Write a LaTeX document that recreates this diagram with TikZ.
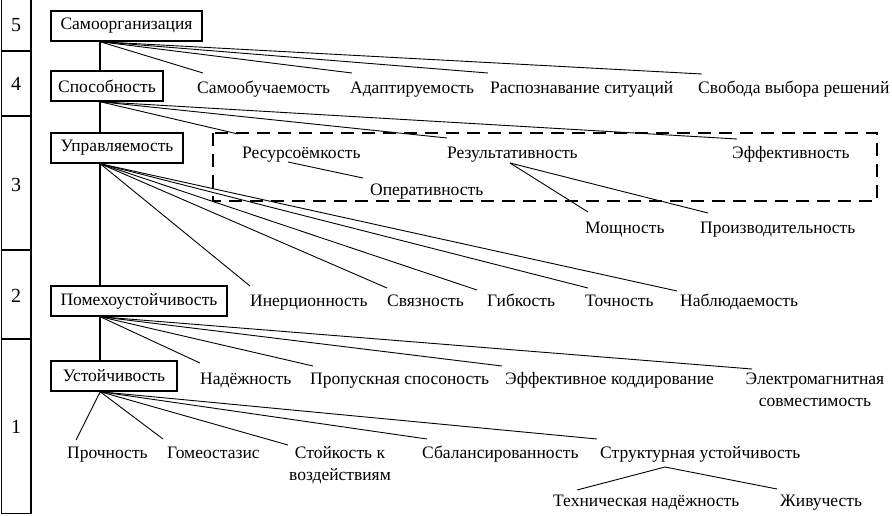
\documentclass[tikz,border=0pt]{standalone}
\usepackage{fontspec}
\setmainfont{Liberation Serif}
\begin{document}
\begin{tikzpicture}[x=1pt,y=-1pt,
  every node/.style={font=\fontsize{17.5}{22}\selectfont},
  box/.style={draw, line width=1.5pt, inner sep=0pt, minimum height=30pt},
  lbl/.style={anchor=base west, inner sep=0pt},
  lbl2/.style={anchor=base, inner sep=0pt, align=center},
  num/.style={inner sep=0pt, font=\fontsize{20}{22}\selectfont},
  fan/.style={line width=0.9pt},
  thick line/.style={line width=1.6pt},
  trunk/.style={line width=2pt},
  dashbox/.style={line width=1.3pt, dash pattern=on 13pt off 8pt}]
\useasboundingbox (0,0) rectangle (892,515);

% level column
\draw[thick line] (1.5,0) -- (1.5,513.5) -- (31,513.5) -- (31,0);
\draw[thick line] (1,51) -- (31,51);
\draw[thick line] (1,116) -- (31,116);
\draw[thick line] (1,250) -- (31,250);
\draw[thick line] (1,339) -- (31,339);
\node[num] (n5) at (16,25) {5};
\node[num] (n4) at (16,84) {4};
\node[num] (n3) at (16,185) {3};
\node[num] (n2) at (16,296) {2};
\node[num] (n1) at (16,427) {1};

% main boxes
\node[box, minimum width=151pt] (samo) at (126.5,26) {Самоорганизация};
\node[box, minimum width=112pt] (spos) at (107,86) {Способность};
\node[box, minimum width=132pt] (upr) at (117,148) {Управляемость};
\node[box, minimum width=176pt] (pom) at (139,301) {Помехоустойчивость};
\node[box, minimum width=126pt] (ust) at (114,376) {Устойчивость};

\coordinate (o5) at ([xshift=50pt]samo.south west);
\coordinate (o4) at ([xshift=50pt]spos.south west);
\coordinate (o3) at ([xshift=50pt]upr.south west);
\coordinate (o2) at ([xshift=50pt]pom.south west);
\coordinate (o1) at ([xshift=50pt]ust.south west);
\coordinate (t4) at ([xshift=50pt]spos.north west);
\coordinate (t3) at ([xshift=50pt]upr.north west);
\coordinate (t2) at ([xshift=50pt]pom.north west);
\coordinate (t1) at ([xshift=50pt]ust.north west);
\draw[trunk] (o5) -- (t4);
\draw[trunk] (o4) -- (t3);
\draw[trunk] (o3) -- (t2);
\draw[trunk] (o2) -- (t1);

% dashed group
\draw[dashbox] (213,133) rectangle (877,201);

% labels
\node[lbl] (a1) at (197,93) {Самообучаемость};
\node[lbl] (a2) at (350,93) {Адаптируемость};
\node[lbl] (a3) at (490,93) {Распознавание ситуаций};
\node[lbl] (a4) at (698,93) {Свобода выбора решений};

\node[lbl] (b1) at (242,158) {Ресурсоёмкость};
\node[lbl] (b2) at (447,158) {Результативность};
\node[lbl] (b3) at (732,158) {Эффективность};
\node[lbl] (b4) at (370,195) {Оперативность};
\node[lbl] (b5) at (585,233) {Мощность};
\node[lbl] (b6) at (700,233) {Производительность};

\node[lbl] (c1) at (250,306) {Инерционность};
\node[lbl] (c2) at (387,306) {Связность};
\node[lbl] (c3) at (487,306) {Гибкость};
\node[lbl] (c4) at (585,306) {Точность};
\node[lbl] (c5) at (680,306) {Наблюдаемость};

\node[lbl] (d1) at (200,384) {Надёжность};
\node[lbl] (d2) at (310,384) {Пропускная спосоность};
\node[lbl] (d3) at (505,384) {Эффективное коддирование};
\node[lbl2] (d4) at (815,406) {Электромагнитная\\совместимость};

\node[lbl] (e1) at (67,458) {Прочность};
\node[lbl] (e2) at (167,458) {Гомеостазис};
\node[lbl2] (e3) at (340,480) {Стойкость к\\воздействиям};
\node[lbl] (e4) at (422,458) {Сбалансированность};
\node[lbl] (e5) at (600,458) {Структурная устойчивость};
\node[lbl] (f1) at (553,506) {Техническая надёжность};
\node[lbl] (f2) at (780,506) {Живучесть};

% connector end points
\coordinate (pa1) at (203,73);
\coordinate (pa2) at (352,73);
\coordinate (pa3) at (488,73);
\coordinate (pa4) at (702,74);
\coordinate (pb1) at (238,134);
\coordinate (pb2) at (447,138);
\coordinate (pb3) at (737,139);
\coordinate (qb1) at (288,162);
\coordinate (pb4) at (363,178);
\coordinate (qb2) at (510,163);
\coordinate (pb5) at (588,212);
\coordinate (pb6) at (708,213);
\coordinate (pc1) at (250,286);
\coordinate (pc2) at (387,288);
\coordinate (pc3) at (477,290);
\coordinate (pc4) at (588,288);
\coordinate (pc5) at (677,291);
\coordinate (pd1) at (200,363);
\coordinate (pd2) at (313,366);
\coordinate (pd3) at (502,366);
\coordinate (pd4) at (752,369);
\coordinate (pe1) at (76,440);
\coordinate (pe2) at (163,439);
\coordinate (pe3) at (288,445);
\coordinate (pe4) at (427,439);
\coordinate (pe5) at (597,439);
\coordinate (qe5) at (665,467);
\coordinate (pf1) at (577,490);
\coordinate (pf2) at (777,489);

% connectors
\foreach \p in {pa1,pa2,pa3,pa4} \draw[fan] (o5) -- (\p);
\foreach \p in {pb1,pb2,pb3} \draw[fan] (o4) -- (\p);
\draw[fan] (qb1) -- (pb4);
\draw[fan] (qb2) -- (pb5);
\draw[fan] (qb2) -- (pb6);
\foreach \p in {pc1,pc2,pc3,pc4,pc5} \draw[fan] (o3) -- (\p);
\foreach \p in {pd1,pd2,pd3,pd4} \draw[fan] (o2) -- (\p);
\foreach \p in {pe1,pe2,pe3,pe4,pe5} \draw[fan] (o1) -- (\p);
\draw[fan] (qe5) -- (pf1);
\draw[fan] (qe5) -- (pf2);
\end{tikzpicture}
\end{document}
